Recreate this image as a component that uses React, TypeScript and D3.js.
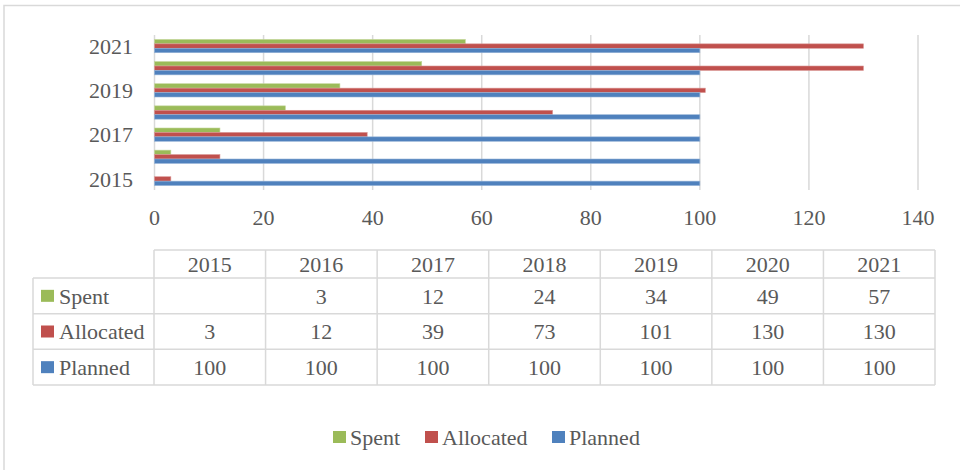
import React from 'react';
import * as d3 from 'd3';

const years = ['2015', '2016', '2017', '2018', '2019', '2020', '2021'];
const seriesNames = ['Spent', 'Allocated', 'Planned'];
const spent = [null, 3, 12, 24, 34, 49, 57];
const allocated = [3, 12, 39, 73, 101, 130, 130];
const planned = [100, 100, 100, 100, 100, 100, 100];
const xTicks = [0, 20, 40, 60, 80, 100, 120, 140];
const yLabels = ['2015', '2017', '2019', '2021'];

const colors: Record<string, string> = {
  Spent: '#9BBB59',
  Allocated: '#C0504D',
  Planned: '#4F81BD',
};
const strokes: Record<string, string> = {
  Spent: '#C3D69B',
  Allocated: '#DA9694',
  Planned: '#95B3D7',
};
const values: Record<string, (number | null)[]> = {
  Spent: spent,
  Allocated: allocated,
  Planned: planned,
};

const W = 960;
const H = 470;
const font = '"Liberation Serif", "DejaVu Serif", serif';
const textColor = '#595959';
const gridColor = '#D9D9D9';

export default function App() {
  // chart scales
  const x = d3.scaleLinear().domain([0, 140]).range([154.5, 918]);
  const y = d3
    .scaleBand<string>()
    .domain([...years].reverse())
    .range([35, 190]);
  const sub = d3
    .scaleBand<string>()
    .domain(seriesNames)
    .range([0, y.bandwidth()])
    .paddingOuter(1);

  // data table scales
  const col = d3.scaleBand<string>().domain(years).range([154, 935]);
  const row = d3.scaleBand<string>().domain(seriesNames).range([278, 385]);
  const headTop = 250;
  const labelLeft = 33;

  return (
    <svg
      width={W}
      height={H}
      style={{ position: 'absolute', left: 0, top: 0, background: '#fff' }}
      fontFamily={font}
    >
      {/* outer chart frame */}
      <rect x={4} y={5.5} width={W + 20} height={H + 20} fill="#fff" stroke={gridColor} strokeWidth={1.5} />

      {/* gridlines */}
      {xTicks.map((t) => (
        <line key={t} x1={x(t)} x2={x(t)} y1={35} y2={190} stroke={gridColor} strokeWidth={1.5} />
      ))}

      {/* bars */}
      {years.map((yr, i) =>
        seriesNames.map((s) => {
          const v = values[s][i];
          if (v == null) return null;
          return (
            <rect
              key={yr + s}
              x={x(0)}
              y={(y(yr) as number) + (sub(s) as number)}
              width={x(v) - x(0)}
              height={sub.bandwidth()}
              fill={colors[s]}
              stroke={strokes[s]}
              strokeWidth={0.6}
            />
          );
        })
      )}

      {/* category labels */}
      {yLabels.map((yr) => (
        <text
          key={yr}
          x={133}
          y={(y(yr) as number) + y.bandwidth() / 2}
          dy="0.35em"
          textAnchor="end"
          fontSize={22}
          fill={textColor}
        >
          {yr}
        </text>
      ))}

      {/* x tick labels */}
      {xTicks.map((t) => (
        <text key={t} x={x(t)} y={225} textAnchor="middle" fontSize={22} fill={textColor}>
          {t}
        </text>
      ))}

      {/* data table */}
      <g stroke={gridColor} strokeWidth={1.5} fill="none">
        <line x1={154} x2={935} y1={headTop} y2={headTop} />
        <line x1={labelLeft} x2={935} y1={278} y2={278} />
        {seriesNames.map((s) => (
          <line key={s} x1={labelLeft} x2={935} y1={(row(s) as number) + row.bandwidth()} y2={(row(s) as number) + row.bandwidth()} />
        ))}
        <line x1={labelLeft} x2={labelLeft} y1={278} y2={385} />
        {years.map((yr) => (
          <line key={yr} x1={col(yr)} x2={col(yr)} y1={headTop} y2={385} />
        ))}
        <line x1={935} x2={935} y1={headTop} y2={385} />
      </g>

      {years.map((yr) => (
        <text
          key={yr}
          x={(col(yr) as number) + col.bandwidth() / 2}
          y={(headTop + 278) / 2}
          dy="0.35em"
          textAnchor="middle"
          fontSize={22}
          fill={textColor}
        >
          {yr}
        </text>
      ))}

      {seriesNames.map((s) => {
        const cy = (row(s) as number) + row.bandwidth() / 2;
        return (
          <g key={s}>
            <rect x={41} y={cy - 6} width={13} height={12} fill={colors[s]} />
            <text x={59} y={cy} dy="0.35em" fontSize={22} fill={textColor}>
              {s}
            </text>
            {years.map((yr, i) => {
              const v = values[s][i];
              return v == null ? null : (
                <text
                  key={yr}
                  x={(col(yr) as number) + col.bandwidth() / 2}
                  y={cy}
                  dy="0.35em"
                  textAnchor="middle"
                  fontSize={22}
                  fill={textColor}
                >
                  {v}
                </text>
              );
            })}
          </g>
        );
      })}

      {/* legend */}
      {[
        { s: 'Spent', x: 333 },
        { s: 'Allocated', x: 425 },
        { s: 'Planned', x: 552 },
      ].map((d) => (
        <g key={d.s}>
          <rect x={d.x} y={431} width={13} height={12} fill={colors[d.s]} />
          <text x={d.x + 17} y={437} dy="0.35em" fontSize={22} fill={textColor}>
            {d.s}
          </text>
        </g>
      ))}
    </svg>
  );
}
